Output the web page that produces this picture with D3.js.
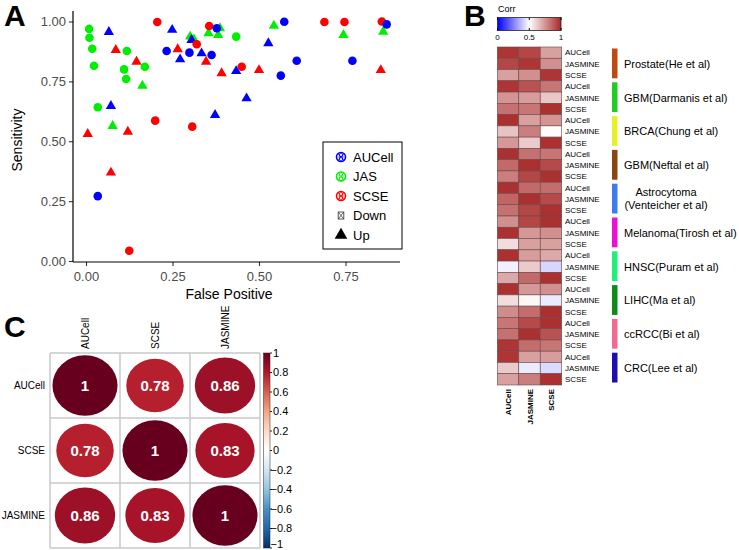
<!DOCTYPE html>
<html>
<head>
<meta charset="utf-8">
<script src="https://cdn.jsdelivr.net/npm/d3@7"></script>
<style>
  body { margin: 0; background: white; }
  svg { font-family: "Liberation Sans", Arial, sans-serif; }
</style>
</head>
<body>
<div id="chart"></div>
<script>
// ---- panel A data: [false positive, sensitivity]
const aucellDown = [[0.233,0.877],[0.299,0.870],[0.363,0.860],[0.573,0.999],[0.609,0.836],[0.563,0.774],[0.770,0.836],[0.869,0.988],[0.034,0.271],[0.378,0.972]];
const aucellUp = [[0.066,0.956],[0.249,0.965],[0.272,0.842],[0.072,0.647],[0.305,0.923],[0.334,0.867],[0.434,0.793],[0.527,0.909],[0.464,0.679],[0.373,0.610]];
const jasDown = [[0.009,0.969],[0.010,0.932],[0.018,0.886],[0.118,0.877],[0.023,0.815],[0.110,0.800],[0.170,0.811],[0.116,0.760],[0.034,0.642],[0.434,0.937]];
const jasUp = [[0.163,0.732],[0.077,0.564],[0.301,0.937],[0.387,0.972],[0.354,0.951],[0.382,0.944],[0.543,0.982],[0.744,0.944],[0.859,0.957],[0.312,0.925]];
const scseDown = [[0.206,0.998],[0.200,0.586],[0.307,0.561],[0.125,0.043],[0.356,0.981],[0.320,0.905],[0.450,0.811],[0.689,0.998],[0.747,0.998],[0.855,1.000]];
const scseUp = [[0.086,0.881],[0.146,0.832],[0.005,0.530],[0.121,0.540],[0.072,0.369],[0.265,0.884],[0.347,0.832],[0.392,0.784],[0.500,0.797],[0.852,0.797]];
const xTicks = [0, 0.25, 0.5, 0.75];
const yTicks = [0, 0.25, 0.5, 0.75, 1];
const legendItems = ["AUCell", "JAS", "SCSE", "Down", "Up"];

// ---- panel B data
const hmCols = ["AUCell", "JASMINE", "SCSE"];
const datasets = ["Prostate(He et al)", "GBM(Darmanis et al)", "BRCA(Chung et al)", "GBM(Neftal et al)",
  "Astrocytoma\n(Venteicher et al)", "Melanoma(Tirosh et al)", "HNSC(Puram et al)", "LIHC(Ma et al)",
  "ccRCC(Bi et al)", "CRC(Lee et al)"];
const datasetColors = ["#bf4a10", "#22cc22", "#e8f02a", "#8b4513", "#3d7cf0", "#ee10d0", "#1ef07a", "#0d8a1a", "#f26a90", "#1e10b0"];
const hmValues = [
  [0.97,0.93,0.72],[0.93,0.97,0.76],[0.72,0.76,0.97],
  [0.97,0.90,0.82],[0.75,0.73,0.63],[0.83,0.82,0.98],
  [0.98,0.72,0.75],[0.64,0.80,0.51],[0.74,0.62,0.98],
  [0.98,0.83,0.82],[0.85,0.98,0.92],[0.80,0.93,0.98],
  [0.98,0.85,0.84],[0.86,0.98,0.92],[0.83,0.93,0.98],
  [0.76,0.93,0.98],[0.98,0.74,0.76],[0.58,0.72,0.72],
  [0.98,0.73,0.70],[0.47,0.62,0.42],[0.70,0.85,0.98],
  [0.98,0.74,0.76],[0.58,0.52,0.46],[0.77,0.84,0.98],
  [0.82,0.92,0.98],[0.83,0.98,0.90],[0.97,0.84,0.82],
  [0.97,0.72,0.73],[0.62,0.46,0.43],[0.72,0.80,0.98]
];
const corrTicksB = [0, 0.5, 1];

// ---- panel C data
const corrLabels = ["AUCell", "SCSE", "JASMINE"];
const corrValues = [[1, 0.78, 0.86], [0.78, 1, 0.83], [0.86, 0.83, 1]];
const corrTicksC = [1, 0.8, 0.6, 0.4, 0.2, 0, -0.2, -0.4, -0.6, -0.8, -1];

const svg = d3.select("#chart").append("svg").attr("width", 739).attr("height", 550);

// ================= A =================
const gA = svg.append("g");
const x = d3.scaleLinear().domain([0, 1]).range([86, 432]);
const y = d3.scaleLinear().domain([0, 1]).range([261, 21.5]);
const colors = {AUCell: "#0000ff", JAS: "#00ee00", SCSE: "#ff0000"};

gA.append("text").attr("x", 4).attr("y", 26).attr("font-size", 30).attr("font-weight", "bold").text("A");

const xAxis = gA.append("g").attr("transform", "translate(0,262)")
  .call(d3.axisBottom(x).tickValues(xTicks).tickFormat(d3.format(".2f")).tickSize(4).tickSizeOuter(0));
const yAxis = gA.append("g").attr("transform", "translate(73,0)")
  .call(d3.axisLeft(y).tickValues(yTicks).tickFormat(d3.format(".2f")).tickSize(4).tickSizeOuter(0));
[xAxis, yAxis].forEach(a => {
  a.select(".domain").remove();
  a.selectAll(".tick line").attr("stroke", "#333").attr("stroke-width", 1.1);
  a.selectAll(".tick text").attr("fill", "#4d4d4d").attr("font-size", 13).attr("font-family", "Liberation Sans, Arial, sans-serif");
});
xAxis.selectAll(".tick text").attr("dy", "0.95em");
gA.append("line").attr("x1", 73).attr("x2", 400).attr("y1", 262).attr("y2", 262).attr("stroke", "black").attr("stroke-width", 1.2);
gA.append("line").attr("x1", 73).attr("x2", 73).attr("y1", 11).attr("y2", 262).attr("stroke", "black").attr("stroke-width", 1.2);

gA.append("text").attr("x", 229).attr("y", 299).attr("text-anchor", "middle").attr("font-size", 14).text("False Positive");
gA.append("text").attr("transform", "translate(22,140)rotate(-90)").attr("text-anchor", "middle").attr("font-size", 14).text("Sensitivity");

const tri = d3.symbol().type(d3.symbolTriangle).size(46);
function drawPts(data, color, up) {
  if (up) {
    gA.selectAll(null).data(data).enter().append("path")
      .attr("d", tri).attr("transform", d => `translate(${x(d[0])},${y(d[1])})`)
      .attr("fill", color);
  } else {
    gA.selectAll(null).data(data).enter().append("circle")
      .attr("cx", d => x(d[0])).attr("cy", d => y(d[1])).attr("r", 4.3)
      .attr("fill", color);
  }
}
drawPts(jasDown, colors.JAS, false);
drawPts(jasUp, colors.JAS, true);
drawPts(aucellUp, colors.AUCell, true);
drawPts(scseUp, colors.SCSE, true);
drawPts(scseDown, colors.SCSE, false);
drawPts(aucellDown, colors.AUCell, false);

// legend
const leg = gA.append("g");
leg.append("rect").attr("x", 323).attr("y", 142).attr("width", 79).attr("height", 107)
  .attr("fill", "white").attr("stroke", "black").attr("stroke-width", 1);
legendItems.forEach((name, i) => {
  const ly = 157 + i * 19.5, lx = 341;
  if (i < 3) {
    const c = colors[name];
    leg.append("circle").attr("cx", lx).attr("cy", ly).attr("r", 4.5).attr("fill", "none").attr("stroke", c).attr("stroke-width", 1.6);
    leg.append("path").attr("d", `M${lx-2.5},${ly-3}L${lx+2.5},${ly+3}M${lx+2.5},${ly-3}L${lx-2.5},${ly+3}`).attr("stroke", c).attr("stroke-width", 1);
    leg.append("ellipse").attr("cx", lx).attr("cy", ly).attr("rx", 1.8).attr("ry", 4.2).attr("fill", "none").attr("stroke", c).attr("stroke-width", 0.9);
  } else if (name === "Down") {
    leg.append("rect").attr("x", lx - 2.8).attr("y", ly - 3.5).attr("width", 5.6).attr("height", 7).attr("fill", "none").attr("stroke", "#444").attr("stroke-width", 0.9);
    leg.append("path").attr("d", `M${lx-2.8},${ly-3.5}L${lx+2.8},${ly+3.5}M${lx+2.8},${ly-3.5}L${lx-2.8},${ly+3.5}`).attr("stroke", "#444").attr("stroke-width", 0.8);
  } else {
    leg.append("path").attr("d", d3.symbol().type(d3.symbolTriangle).size(70)).attr("transform", `translate(${lx},${ly})`).attr("fill", "black");
  }
  leg.append("text").attr("x", 353).attr("y", ly).attr("dy", "0.35em").attr("font-size", 13).text(name);
});

// ================= B =================
const gB = svg.append("g");
gB.append("text").attr("x", 464).attr("y", 26).attr("font-size", 30).attr("font-weight", "bold").text("B");

const hmColor = d3.scaleLinear().domain([0, 0.5, 1]).range(["#0000ff", "#ffffff", "#a82828"]);
const bx = d3.scaleBand().domain(hmCols).range([497.3, 561.7]);
const by = d3.scaleBand().domain(d3.range(hmValues.length)).range([47, 385]);

// colorbar
const defs = svg.append("defs");
const gradB = defs.append("linearGradient").attr("id", "gradB");
d3.range(0, 1.01, 0.1).forEach(t => gradB.append("stop").attr("offset", t).attr("stop-color", hmColor(t)));
gB.append("text").attr("x", 498).attr("y", 12).attr("font-size", 9).text("Corr");
const cbx = d3.scaleLinear().domain([0, 1]).range([497.5, 561]);
gB.append("rect").attr("x", 497.5).attr("y", 17.5).attr("width", 63.5).attr("height", 13)
  .attr("fill", "url(#gradB)").attr("stroke", "#222").attr("stroke-width", 0.8);
corrTicksB.forEach(t => {
  gB.append("line").attr("x1", cbx(t)).attr("x2", cbx(t)).attr("y1", 17.5).attr("y2", 20).attr("stroke", "black");
  gB.append("line").attr("x1", cbx(t)).attr("x2", cbx(t)).attr("y1", 28).attr("y2", 30.5).attr("stroke", "black");
  gB.append("text").attr("x", cbx(t)).attr("y", 40).attr("text-anchor", "middle").attr("font-size", 8).text(t);
});

hmValues.forEach((row, i) => {
  row.forEach((v, j) => {
    gB.append("rect").attr("x", bx(hmCols[j])).attr("y", by(i))
      .attr("width", bx.bandwidth()).attr("height", by.bandwidth())
      .attr("fill", hmColor(v)).attr("stroke", "#6b4848").attr("stroke-width", 0.6);
  });
  gB.append("text").attr("x", 565).attr("y", by(i) + by.bandwidth() / 2).attr("dy", "0.35em")
    .attr("font-size", 8).text(hmCols[i % 3]);
});
hmCols.forEach(c => {
  gB.append("text").attr("transform", `translate(${bx(c) + bx.bandwidth() / 2 + 3},389)rotate(-90)`)
    .attr("text-anchor", "end").attr("font-size", 8).attr("font-weight", "bold").text(c);
});

datasets.forEach((name, k) => {
  const top = by(k * 3), bot = by(k * 3 + 2) + by.bandwidth();
  gB.append("rect").attr("x", 612).attr("y", top + 1.5).attr("width", 5.5).attr("height", bot - top - 4)
    .attr("fill", datasetColors[k]);
  const lines = name.split("\n");
  const cy = (top + bot) / 2;
  if (lines.length === 1) {
    gB.append("text").attr("x", 624).attr("y", cy).attr("dy", "0.35em").attr("font-size", 11).text(name);
  } else {
    lines.forEach((ln, m) => {
      gB.append("text").attr("x", 666).attr("y", cy + (m - 0.5) * 13).attr("dy", "0.35em")
        .attr("text-anchor", "middle").attr("font-size", 11).text(ln);
    });
  }
});

// ================= C =================
const gC = svg.append("g");
gC.append("text").attr("x", 4).attr("y", 337).attr("font-size", 30).attr("font-weight", "bold").text("C");

const cx = d3.scaleBand().domain(corrLabels).range([50, 260]);
const cy = d3.scaleBand().domain(corrLabels).range([353, 548]);
const corrColor = d3.scaleLinear().domain([-1, -0.8, -0.6, -0.4, -0.2, 0, 0.2, 0.4, 0.6, 0.8, 1])
  .range(["#053061", "#2166AC", "#4393C3", "#92C5DE", "#D1E5F0", "#FFFFFF", "#FDDBC7", "#F4A582", "#D6604D", "#B2182B", "#67001F"]);

corrLabels.forEach((r, i) => {
  corrLabels.forEach((c, j) => {
    const v = corrValues[i][j];
    const mx = cx(c) + cx.bandwidth() / 2, my = cy(r) + cy.bandwidth() / 2;
    gC.append("ellipse").attr("cx", mx).attr("cy", my)
      .attr("rx", 0.465 * cx.bandwidth() * Math.sqrt(Math.abs(v)))
      .attr("ry", 0.465 * cy.bandwidth() * Math.sqrt(Math.abs(v)))
      .attr("fill", corrColor(v));
    gC.append("text").attr("x", mx).attr("y", my).attr("dy", "0.35em").attr("text-anchor", "middle")
      .attr("fill", "white").attr("font-size", 15).attr("font-weight", "bold").text(v);
  });
  gC.append("text").attr("x", 45).attr("y", cy(r) + cy.bandwidth() / 2).attr("dy", "0.35em")
    .attr("text-anchor", "end").attr("font-size", 10).text(r);
  gC.append("text").attr("transform", `translate(${cx(r) + cx.bandwidth() / 2 + 4},349)rotate(-90)`)
    .attr("font-size", 10).text(r);
});
// grid
d3.range(4).forEach(k => {
  const gx = 50 + k * cx.bandwidth(), gy = 353 + k * cy.bandwidth();
  gC.append("line").attr("x1", gx).attr("x2", gx).attr("y1", 353).attr("y2", 548).attr("stroke", "#c8c8c8").attr("stroke-width", 1.5);
  gC.append("line").attr("x1", 50).attr("x2", 260).attr("y1", gy).attr("y2", gy).attr("stroke", "#c8c8c8").attr("stroke-width", 1.5);
});

// colorbar C
const gradC = defs.append("linearGradient").attr("id", "gradC").attr("x1", 0).attr("x2", 0).attr("y1", 0).attr("y2", 1);
d3.range(0, 1.001, 0.05).forEach(t => gradC.append("stop").attr("offset", t).attr("stop-color", corrColor(1 - 2 * t)));
const ccy = d3.scaleLinear().domain([1, -1]).range([353, 548]);
gC.append("rect").attr("x", 263.5).attr("y", 353).attr("width", 6.5).attr("height", 195).attr("fill", "url(#gradC)")
  .attr("stroke", "#222").attr("stroke-width", 0.5);
corrTicksC.forEach(t => {
  gC.append("line").attr("x1", 270).attr("x2", 272).attr("y1", ccy(t)).attr("y2", ccy(t)).attr("stroke", "#222");
  gC.append("text").attr("x", t < 0 ? 270.5 : 273).attr("y", Math.min(ccy(t), 544)).attr("dy", "0.35em").attr("font-size", 11)
    .text(t < 0 ? "\u2212" + Math.abs(t) : t);
});
</script>
</body>
</html>
